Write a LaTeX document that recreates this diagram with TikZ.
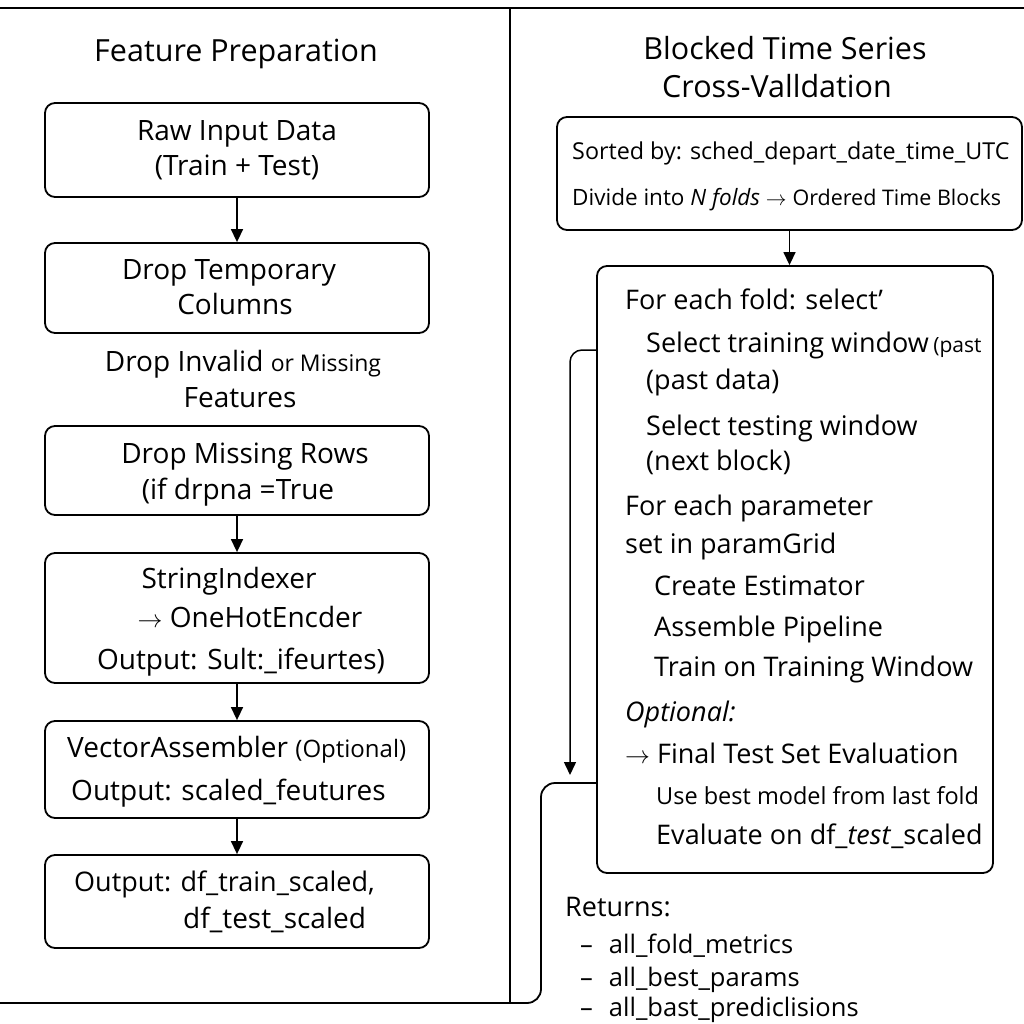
\documentclass[tikz,border=0pt]{standalone}
\usepackage{fontspec}
\setmainfont{Open Sans}
\usetikzlibrary{arrows.meta}
\begin{document}
\begin{tikzpicture}[x=1pt,y=-1pt,
  box/.style={draw,line width=1.8pt,rounded corners=10pt,inner sep=0pt},
  arr/.style={line width=1.5pt,-{Triangle[width=12pt,length=13pt]}},
  conn/.style={line width=1.8pt,rounded corners=14pt},
  frame/.style={line width=2.6pt},
  t/.style={inner sep=0pt,anchor=mid,yshift=-6pt,font=\fontsize{28}{32}\selectfont},
  tl/.style={t,anchor=mid west},
  tr/.style={inner sep=0pt,anchor=mid west,yshift=-6pt,font=\fontsize{27}{32}\selectfont},
  ttl/.style={inner sep=0pt,anchor=mid,yshift=-7pt,font=\fontsize{30.5}{36}\selectfont},
  sm/.style={inner sep=0pt,anchor=mid west,yshift=-6pt,font=\fontsize{23.3}{28}\selectfont}]
\useasboundingbox (0,0) rectangle (1024,1024);
% frame
\draw[frame] (0,8) -- (1024,8);
\draw[frame] (510,8) -- (510,1003);
% left column
\node[ttl] (t1) at (236,52) {Feature Preparation};
\node[box,minimum width=384pt,minimum height=94pt] (raw) at (237,150) {};
\node[t] (raw1) at (237,132) {Raw Input Data};
\node[t] (raw2) at (237,167) {(Train + Test)};
\node[box,minimum width=384pt,minimum height=90pt] (drop) at (237,288) {};
\node[t] (drop1) at (229,271) {Drop Temporary};
\node[t] (drop2) at (235,306) {Columns};
\node[t] (inv1) at (243,363) {Drop Invalid {\fontsize{23}{26}\selectfont or Missing}};
\node[t] (inv2) at (240,399) {Features};
\node[box,minimum width=384pt,minimum height=89pt] (rows) at (237,470.5) {};
\node[t] (rows1) at (245,455) {Drop Missing Rows};
\node[t] (rows2) at (238,491) {(if drpna =True};
\node[box,minimum width=384pt,minimum height=130pt] (str) at (237,618) {};
\node[t] (str1) at (229,580) {StringIndexer};
\node[t] (str2) at (250,619) {$\rightarrow$ OneHotEncder};
\node[t] (str3) at (241,661) {Output: Sult:\_ifeurtes)};
\node[box,minimum width=384pt,minimum height=97pt] (vec) at (237,769.5) {};
\node[tl] (vec1) at (67,749) {VectorAssembler {\fontsize{24}{28}\selectfont(Optional)}};
\node[tl] (vec2) at (71,792) {Output: scaled\_feutures};
\node[box,minimum width=384pt,minimum height=93pt] (out) at (237,901.5) {};
\node[tl,font=\fontsize{27}{32}\selectfont] (out1) at (74,883) {Output: df\_train\_scaled,};
\node[tl] (out2) at (183,920) {df\_test\_scaled};
\draw[arr] (raw) -- (drop);
\draw[arr] (rows) -- (str);
\draw[arr] (str) -- (vec);
\draw[arr] (vec) -- (out);
% right column
\node[ttl] (t2) at (785,50) {Blocked Time Series};
\node[ttl] (t3) at (777,88) {Cross-Valldation};
\node[box,minimum width=465pt,minimum height=113pt] (sorted) at (789.5,173.5) {};
\node[sm] (s1) at (572,151) {Sorted by: sched\_depart\_date\_time\_UTC};
\node[sm,font=\fontsize{22.5}{27}\selectfont] (s2) at (572,197) {Divide into \textit{N folds} $\rightarrow$ {\fontsize{21.5}{25}\selectfont Ordered Time Blocks}};
\node[box,minimum width=396pt,minimum height=607pt] (loop) at (795,569.5) {};
\node[tr] (l1) at (625,301) {For each fold: select'};
\node[tr] (l2) at (646,344) {Select training window\,{\fontsize{21}{24}\selectfont(past}};
\node[tr] (l3) at (646,381) {(past data)};
\node[tr] (l4) at (646,427) {Select testing window};
\node[tr] (l5) at (646,462) {(next block)};
\node[tr] (l6) at (625,507) {For each parameter};
\node[tr] (l7) at (625,545) {set in paramGrid};
\node[tr] (l8) at (654,587) {Create Estimator};
\node[tr] (l9) at (654,628) {Assemble Pipeline};
\node[tr] (l10) at (654,668) {Train on Training Window};
\node[tr] (l11) at (625,713) {\textit{Optional:}};
\node[tr] (l12) at (625,755) {$\rightarrow$ Final Test Set Evaluation};
\node[tr,font=\fontsize{23.5}{28}\selectfont] (l13) at (656,796) {Use best model from last fold};
\node[tr] (l14) at (656,836) {Evaluate on df\_\textit{test}\_scaled};
\node[tr] (r0) at (565,908) {Returns:};
\node[tr,font=\fontsize{25.5}{30}\selectfont] (r1) at (580,945) {--\hspace{16pt}all\_fold\_metrics};
\node[tr,font=\fontsize{25.5}{30}\selectfont] (r2) at (580,978) {--\hspace{16pt}all\_best\_params};
\node[tr,font=\fontsize{25.5}{30}\selectfont] (r3) at (580,1008) {--\hspace{16pt}all\_bast\_prediclisions};
\draw[arr] (sorted.south) -- (sorted.south |- loop.north);
\coordinate (ya) at (0,350);
\coordinate (yb) at (0,783);
\coordinate (fa) at (570,775);
\coordinate (fb) at (541,1003);
\coordinate (fc) at (0,1003);
\draw[arr,rounded corners=12pt] (loop.west |- ya) -- (fa |- ya) -- (fa);
\draw[conn] (loop.west |- yb) -- (fb |- yb) -- (fb) -- (fc);
\end{tikzpicture}
\end{document}
